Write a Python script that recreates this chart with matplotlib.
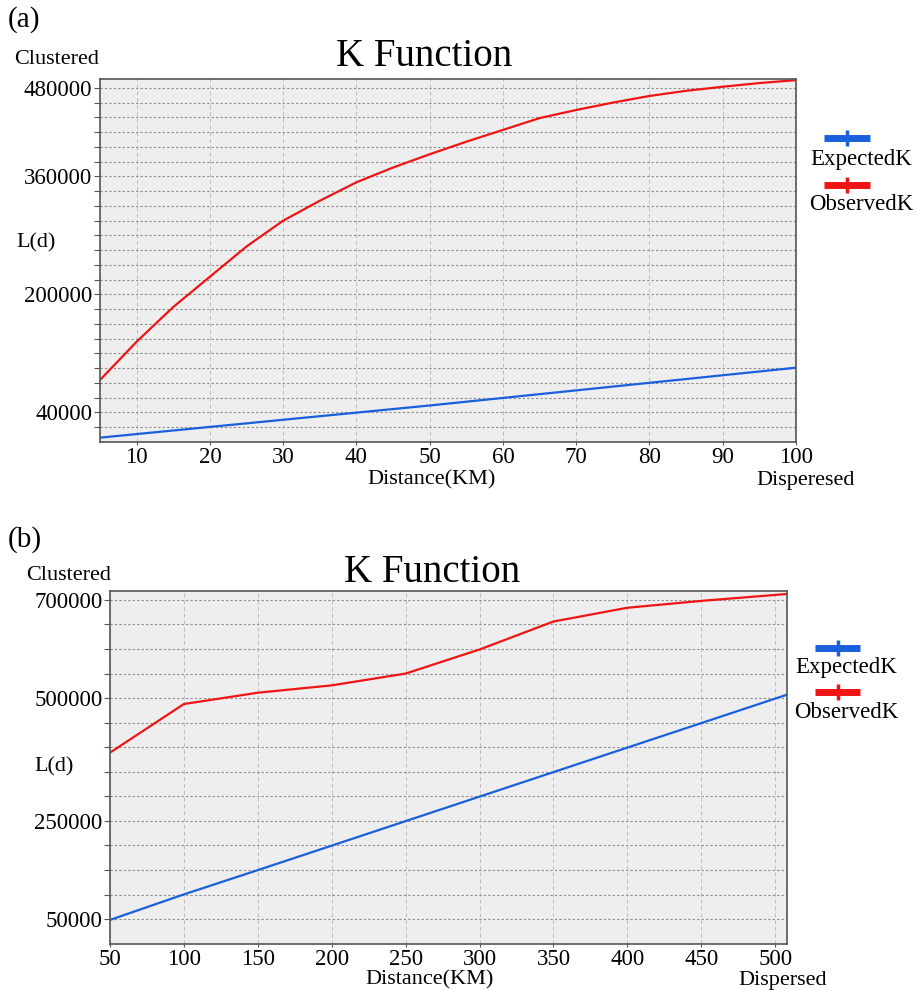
import matplotlib.pyplot as plt
from matplotlib.lines import Line2D
import numpy as np

plt.rcParams['font.family'] = ['Liberation Serif', 'DejaVu Serif']

# panel (a) data
dist_a = [5, 10, 15, 20, 25, 30, 35, 40, 45, 50, 55, 60, 65, 70, 75, 80, 85, 90, 95, 100]
observed_a = [84000, 136000, 183000, 224000, 265000, 300000, 327000, 352000, 372000, 390000,
              407000, 423000, 439000, 450000, 460000, 469000, 476000, 481500, 486500, 490500]
dist_a_exp = [5, 50, 100]
expected_a = [5900, 49500, 100700]
yticks_a = [40000, 200000, 360000, 480000]

# panel (b) data
dist_b = [50, 100, 150, 200, 250, 300, 350, 400, 450, 510]
observed_b = [389000, 488000, 511000, 526000, 550000, 599000, 656000, 684000, 698000, 712500]
dist_b_exp = [50, 100, 150, 510]
expected_b = [48400, 100400, 149800, 509000]
yticks_b = [50000, 250000, 500000, 700000]

RED = '#f01414'
BLUE = '#1a5fdc'

fig = plt.figure(figsize=(9.17, 9.91), dpi=100)


def style_axes(ax, xlim, xticks, ylim, ystep, ylabels):
    ax.set_facecolor('#eeeeee')
    ax.set_xlim(*xlim)
    ax.set_ylim(*ylim)
    ax.set_xticks(xticks)
    ax.set_xticklabels([str(t) for t in xticks])
    grid_y = np.arange(ystep, ylim[1], ystep)
    ax.set_yticks(grid_y)
    ax.set_yticklabels([str(int(v)) if int(v) in ylabels else '' for v in grid_y])
    ax.grid(axis='y', color='#8a8a8a', linestyle=(0, (2, 2)), linewidth=0.8)
    ax.grid(axis='x', color='#bdbdbd', linestyle=(0, (4, 3)), linewidth=0.7)
    ax.set_axisbelow(True)
    ax.tick_params(axis='y', labelsize=16.5, length=4, width=0.8, color='#555555', pad=1.5)
    ax.tick_params(axis='x', labelsize=16.5, length=2.5, width=0.8, color='#555555', pad=1)
    for s in ax.spines.values():
        s.set_color('#555555')
        s.set_linewidth(1.2)


def legend_block(x0, x1, y_exp, y_obs, ty_exp, ty_obs, tx):
    for y, c in [(y_exp, BLUE), (y_obs, RED)]:
        fig.add_artist(Line2D([x0, x1], [y, y], color=c, lw=5, transform=fig.transFigure, solid_capstyle='butt'))
        fig.add_artist(Line2D([(x0 + x1) / 2], [y], color=c, marker='|', markersize=11, mew=2.5,
                              transform=fig.transFigure))
    fig.text(tx, ty_exp, 'ExpectedK', fontsize=16.5, va='center', ha='center')
    fig.text(tx, ty_obs, 'ObservedK', fontsize=16.5, va='center', ha='center')


W, H = 917, 991

# ---- panel (a)
ax1 = fig.add_axes([100 / W, 1 - 442 / H, 696 / W, 363 / H])
ax1.plot(dist_a_exp, expected_a, color=BLUE, lw=1.6)
ax1.plot(dist_a, observed_a, color=RED, lw=1.6)
style_axes(ax1, (5, 100), list(range(10, 101, 10)), (0, 492000), 20000, yticks_a)

fig.text(8 / W, 1 - 20 / H, '(a)', fontsize=21, va='center', ha='left')
fig.text(14 / W, 1 - 60 / H, 'Clustered', fontsize=16, va='center', ha='left')
fig.text(424 / W, 1 - 57 / H, 'K Function', fontsize=28, va='center', ha='center')
fig.text(16 / W, 1 - 243 / H, 'L(d)', fontsize=16, va='center', ha='left')
fig.text(432 / W, 1 - 480 / H, 'Distance(KM)', fontsize=16, va='center', ha='center')
fig.text(806 / W, 1 - 480 / H, 'Disperesed', fontsize=16, va='center', ha='center')
legend_block(824 / W, 870 / W, 1 - 138 / H, 1 - 185 / H, 1 - 160 / H, 1 - 205 / H, 861 / W)

# ---- panel (b)
ax2 = fig.add_axes([110 / W, 1 - 943.7 / H, 677 / W, 352.4 / H])
ax2.plot(dist_b_exp, expected_b, color=BLUE, lw=1.6)
ax2.plot(dist_b, observed_b, color=RED, lw=1.6)
style_axes(ax2, (50, 508), list(range(50, 501, 50)), (0, 717500), 50000, yticks_b)

fig.text(8 / W, 1 - 540 / H, '(b)', fontsize=21, va='center', ha='left')
fig.text(26 / W, 1 - 575 / H, 'Clustered', fontsize=16, va='center', ha='left')
fig.text(432 / W, 1 - 573 / H, 'K Function', fontsize=28, va='center', ha='center')
fig.text(34 / W, 1 - 767 / H, 'L(d)', fontsize=16, va='center', ha='left')
fig.text(430 / W, 1 - 980 / H, 'Distance(KM)', fontsize=16, va='center', ha='center')
fig.text(783 / W, 1 - 980 / H, 'Dispersed', fontsize=16, va='center', ha='center')
legend_block(815 / W, 860 / W, 1 - 648 / H, 1 - 692 / H, 1 - 668 / H, 1 - 713 / H, 846 / W)

fig.savefig('out.png', dpi=100, facecolor='white')
